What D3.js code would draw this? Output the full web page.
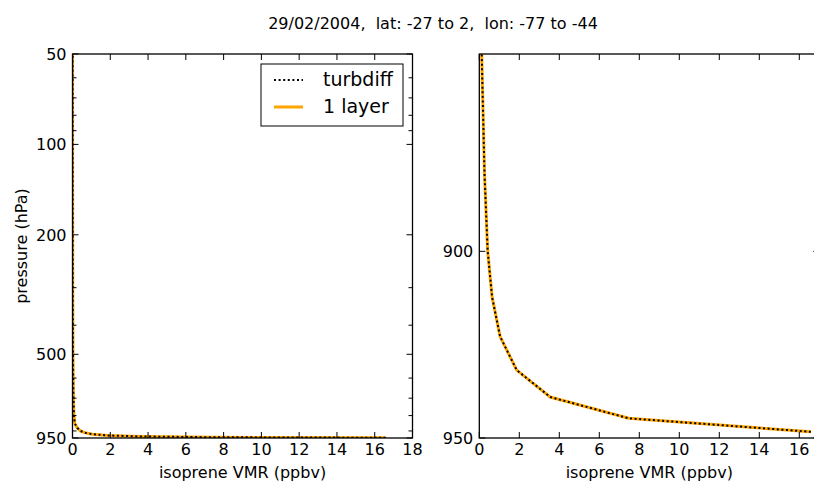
<!DOCTYPE html>
<html>
<meta charset="utf-8">
<head>
  <script src="https://d3js.org/d3.v7.min.js"></script>
  <style>
    body { margin: 0; background: #fff; }
    text { font-family: "DejaVu Sans", sans-serif; fill: #000; white-space: pre; }
    .spine { fill: none; stroke: #000; stroke-width: 1.3px; }
    .tick { stroke: #000; stroke-width: 1px; }
  </style>
</head>
<body>
<div id="chart"></div>

<script type="text/javascript">
  "use strict"

  // pressure levels (hPa) and isoprene VMR (ppbv)
  var pressure    = [948.3, 944.6, 938.8, 931.5, 922.5, 912, 900, 880, 850, 800, 700, 600, 500, 400, 300, 200, 100, 50];
  var vmrTurbdiff = [16.58, 7.47, 3.55, 1.87, 1.04, 0.64, 0.42, 0.26, 0.12, 0.08, 0.05, 0.035, 0.025, 0.018, 0.012, 0.008, 0.004, 0.002];
  var vmrOneLayer = [16.58, 7.47, 3.55, 1.87, 1.04, 0.64, 0.42, 0.26, 0.12, 0.08, 0.05, 0.035, 0.025, 0.018, 0.012, 0.008, 0.004, 0.002];

  var seriesNames = ["turbdiff", "1 layer"];
  var title = "29/02/2004,  lat: -27 to 2,  lon: -77 to -44";

  var leftYTicks  = [50, 100, 200, 500, 950];
  var leftYMinor  = [60, 70, 80, 90, 300, 400, 600, 700, 800, 900];
  var leftXTicks  = [0, 2, 4, 6, 8, 10, 12, 14, 16, 18];
  var rightYTicks = [900, 950];
  var rightXTicks = [0, 2, 4, 6, 8, 10, 12, 14, 16];

  var width = 814, height = 486;

  var svg = d3.select("#chart")
      .append("svg")
      .attr("width", width)
      .attr("height", height);

  svg.append("text")
      .attr("x", 433)
      .attr("y", 29)
      .attr("text-anchor", "middle")
      .style("font-size", "16px")
      .text(title);

  var yTop = 54, yBot = 438;

  var panels = [
    { id: "left",  x0: 72.5,  x1: 412.5, xdom: [0, 18], ydom: [50, 950],
      yticks: leftYTicks, yminor: leftYMinor, xticks: leftXTicks, ylabel: "pressure (hPa)", legend: true },
    { id: "right", x0: 479.3, x1: 819.3, xdom: [0, 17], ydom: [850, 950],
      yticks: rightYTicks, yminor: [], xticks: rightXTicks, ylabel: null, legend: false }
  ];

  var rows = pressure.map(function(p, i) {
    return { p: p, a: vmrTurbdiff[i], b: vmrOneLayer[i] };
  });

  panels.forEach(function(P) {
    var x = d3.scaleLinear().domain(P.xdom).range([P.x0, P.x1]);
    var y = d3.scaleLog().domain(P.ydom).range([yTop, yBot]);

    var g = svg.append("g");

    g.append("clipPath").attr("id", "clip-" + P.id)
      .append("rect")
        .attr("x", P.x0).attr("y", yTop)
        .attr("width", P.x1 - P.x0).attr("height", yBot - yTop);

    var lineB = d3.line()
        .x(function(d) { return x(d.b); })
        .y(function(d) { return y(d.p); });
    var lineA = d3.line()
        .x(function(d) { return x(d.a); })
        .y(function(d) { return y(d.p); });

    var plot = g.append("g").attr("clip-path", "url(#clip-" + P.id + ")");
    plot.append("path")
        .datum(rows)
        .attr("d", lineB)
        .attr("fill", "none")
        .attr("stroke", "#ffa500")
        .attr("stroke-width", 3);
    plot.append("path")
        .datum(rows)
        .attr("d", lineA)
        .attr("fill", "none")
        .attr("stroke", "#000")
        .attr("stroke-width", 2)
        .attr("stroke-dasharray", "2,2.6");

    // ticks drawn inward on all four sides
    P.xticks.forEach(function(t) {
      var xx = x(t);
      g.append("line").attr("class", "tick")
          .attr("x1", xx).attr("x2", xx).attr("y1", yBot).attr("y2", yBot - 6);
      g.append("line").attr("class", "tick")
          .attr("x1", xx).attr("x2", xx).attr("y1", yTop).attr("y2", yTop + 6);
      g.append("text")
          .attr("x", xx).attr("y", yBot + 17)
          .attr("text-anchor", "middle")
          .style("font-size", "16px")
          .text(t);
    });

    P.yticks.forEach(function(t) {
      var yy = y(t);
      g.append("line").attr("class", "tick")
          .attr("x1", P.x0).attr("x2", P.x0 + 6).attr("y1", yy).attr("y2", yy);
      g.append("line").attr("class", "tick")
          .attr("x1", P.x1).attr("x2", P.x1 - 6).attr("y1", yy).attr("y2", yy);
      g.append("text")
          .attr("x", P.x0 - 6).attr("y", yy + 6)
          .attr("text-anchor", "end")
          .style("font-size", "16px")
          .text(t);
    });

    P.yminor.forEach(function(t) {
      var yy = y(t);
      g.append("line").attr("class", "tick")
          .attr("x1", P.x0).attr("x2", P.x0 + 4).attr("y1", yy).attr("y2", yy);
      g.append("line").attr("class", "tick")
          .attr("x1", P.x1).attr("x2", P.x1 - 4).attr("y1", yy).attr("y2", yy);
    });

    g.append("rect").attr("class", "spine")
        .attr("x", P.x0).attr("y", yTop)
        .attr("width", P.x1 - P.x0).attr("height", yBot - yTop);

    g.append("text")
        .attr("x", (P.x0 + P.x1) / 2).attr("y", 478)
        .attr("text-anchor", "middle")
        .style("font-size", "16px")
        .text("isoprene VMR (ppbv)");

    if (P.ylabel) {
      g.append("text")
          .attr("transform", "translate(27," + ((yTop + yBot) / 2) + ") rotate(-90)")
          .attr("text-anchor", "middle")
          .style("font-size", "16px")
          .text(P.ylabel);
    }

    if (P.legend) {
      var lg = g.append("g");
      lg.append("rect")
          .attr("x", 261).attr("y", 64)
          .attr("width", 142).attr("height", 62)
          .attr("fill", "#fff")
          .attr("stroke", "#000")
          .attr("stroke-width", 1);
      lg.append("line")
          .attr("x1", 274).attr("x2", 303).attr("y1", 80).attr("y2", 80)
          .attr("stroke", "#000").attr("stroke-width", 2)
          .attr("stroke-dasharray", "2,2.6");
      lg.append("line")
          .attr("x1", 274).attr("x2", 303).attr("y1", 107).attr("y2", 107)
          .attr("stroke", "#ffa500").attr("stroke-width", 3);
      seriesNames.forEach(function(name, i) {
        lg.append("text")
            .attr("x", 323).attr("y", 86 + i * 27)
            .style("font-size", "19px")
            .text(name);
      });
    }
  });
</script>
</body>
</html>
